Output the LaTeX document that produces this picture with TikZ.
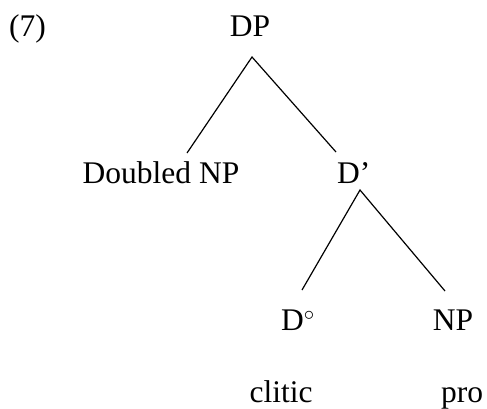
\documentclass[tikz,border=0pt]{standalone}
\usepackage{fontspec}
\setmainfont{Liberation Serif}
\begin{document}
\begin{tikzpicture}[x=1pt,y=-1pt,
  lbl/.style={inner sep=0pt,font=\fontsize{31.5}{38}\selectfont},
  branch/.style={line width=1.2pt}]
\useasboundingbox (0,0) rectangle (487,408);
\node[lbl,anchor=base west] (ex) at (9,36) {(7)};
\node[lbl,anchor=base] (dp) at (250,36) {DP};
\node[lbl,anchor=base] (dnp) at (161,183) {Doubled NP};
\node[lbl,anchor=base west] (dbar) at (337,183) {D’};
\node[lbl,anchor=base west] (d0) at (281,330) {D$^{\circ}$};
\node[lbl,anchor=base] (np) at (453,330) {NP};
\node[lbl,anchor=base] (clitic) at (281,402) {clitic};
\node[lbl,anchor=base] (pro) at (462,402) {pro};
\coordinate (dpTop) at (252,57);
\coordinate (dnpTop) at (187,153);
\coordinate (dbarTop0) at (336,152);
\coordinate (dbarApex) at (360,190);
\coordinate (d0Top) at (302,290);
\coordinate (npTop) at (445,291);
\draw[branch] (dnpTop) -- (dpTop) -- (dbarTop0);
\draw[branch] (d0Top) -- (dbarApex) -- (npTop);
\end{tikzpicture}
\end{document}
